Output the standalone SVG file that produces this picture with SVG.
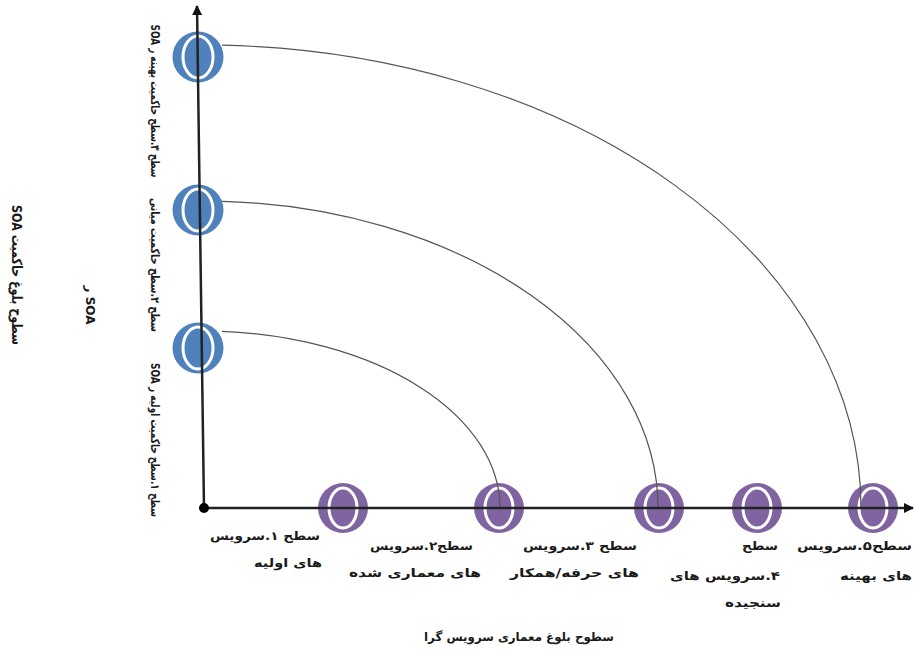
<svg xmlns="http://www.w3.org/2000/svg" width="916" height="651" viewBox="0 0 916 651">
<style>
.axis{stroke:#222;stroke-width:2.5;fill:none}
.arc{stroke:#555;stroke-width:1.2;fill:none}
.blue{fill:#4F81BD}
.purple{fill:#8064A2}
.gap{fill:none;stroke:#fff;stroke-width:3}
.t{font-family:"DejaVu Sans",sans-serif;font-size:12px;font-weight:bold;fill:#1a1a1a;direction:rtl}
.big{font-size:14px}
</style>
<defs>
<marker id="arr" viewBox="0 0 10 10" refX="9" refY="5" markerWidth="4" markerHeight="4" orient="auto" markerUnits="strokeWidth">
<path d="M0,0 L10,5 L0,10 z" fill="#111"/>
</marker>
</defs>
<rect width="916" height="651" fill="#fff"/>

<g id="nodes">
<g id="b3" class="blue"><circle cx="198" cy="57" r="25.5"/><ellipse class="gap" cx="198" cy="57" rx="15" ry="21"/></g>
<g id="b2" class="blue"><circle cx="198" cy="210" r="25.5"/><ellipse class="gap" cx="198" cy="210" rx="15" ry="21"/></g>
<g id="b1" class="blue"><circle cx="198" cy="348" r="25.5"/><ellipse class="gap" cx="198" cy="348" rx="15" ry="21"/></g>
<g id="p1" class="purple"><circle cx="343" cy="508" r="25"/><ellipse class="gap" cx="343" cy="508" rx="14" ry="20"/></g>
<g id="p2" class="purple"><circle cx="499" cy="508" r="25"/><ellipse class="gap" cx="499" cy="508" rx="14" ry="20"/></g>
<g id="p3" class="purple"><circle cx="659" cy="508" r="25"/><ellipse class="gap" cx="659" cy="508" rx="14" ry="20"/></g>
<g id="p4" class="purple"><circle cx="757" cy="508" r="25"/><ellipse class="gap" cx="757" cy="508" rx="14" ry="20"/></g>
<g id="p5" class="purple"><circle cx="873" cy="508" r="25"/><ellipse class="gap" cx="873" cy="508" rx="14" ry="20"/></g>
</g>

<g id="connectors">
<path class="arc" d="M222,331.4 A297,177 0 0 1 500,508"/>
<path class="arc" d="M222,201.3 A455,307 0 0 1 658,508"/>
<path class="arc" d="M222,45.2 A658,463 0 0 1 861,508"/>
<line class="axis" x1="204" y1="508" x2="197" y2="6" marker-end="url(#arr)"/>
<line class="axis" x1="204" y1="508" x2="913" y2="508" marker-end="url(#arr)"/>
<circle cx="204" cy="508" r="5" fill="#000"/>
</g>

<g id="labels">
<text class="t" x="320" y="540" textLength="110" lengthAdjust="spacingAndGlyphs">سطح ۱.سرویس</text>
<text class="t" x="322" y="567" textLength="68" lengthAdjust="spacingAndGlyphs">های اولیه</text>
<text class="t" x="473" y="550" textLength="103" lengthAdjust="spacingAndGlyphs">سطح۲.سرویس</text>
<text class="t" x="481" y="577" textLength="132" lengthAdjust="spacingAndGlyphs">های معماری شده</text>
<text class="t" x="637" y="550" textLength="114" lengthAdjust="spacingAndGlyphs">سطح ۳.سرویس</text>
<text class="t" x="639" y="577" textLength="129" lengthAdjust="spacingAndGlyphs">های حرفه/همکار</text>
<text class="t" x="778" y="550" textLength="36" lengthAdjust="spacingAndGlyphs">سطح</text>
<text class="t" x="780" y="580" textLength="110" lengthAdjust="spacingAndGlyphs">۴.سرویس های</text>
<text class="t" x="781" y="607" textLength="56" lengthAdjust="spacingAndGlyphs">سنجیده</text>
<text class="t" x="912" y="550" textLength="115" lengthAdjust="spacingAndGlyphs">سطح۵.سرویس</text>
<text class="t" x="912" y="580" textLength="72" lengthAdjust="spacingAndGlyphs">های بهینه</text>
<text class="t" x="614" y="641" textLength="190" lengthAdjust="spacingAndGlyphs">سطوح بلوغ معماری سرویس گرا</text>
<text class="t big" x="205" y="-12" textLength="140" lengthAdjust="spacingAndGlyphs" transform="rotate(90)" direction="ltr" style="direction:ltr" unicode-bidi="bidi-override">‫سطوح بلوغ حاکمیت SOA‬</text>
<text class="t" text-anchor="middle" transform="translate(86,305) rotate(90)">SOA ر</text>
<text class="t" text-anchor="middle" transform="translate(151,101) rotate(90)" textLength="153" lengthAdjust="spacingAndGlyphs">سطح ۳.سطح حاکمیت بهینه ر SOA</text>
<text class="t" text-anchor="middle" transform="translate(151,265) rotate(90)" textLength="134" lengthAdjust="spacingAndGlyphs">سطح ۲.سطح حاکمیت میانی</text>
<text class="t" text-anchor="middle" transform="translate(151,440) rotate(90)" textLength="154" lengthAdjust="spacingAndGlyphs">سطح ۱.سطح حاکمیت اولیه ر SOA</text>
</g>
</svg>
